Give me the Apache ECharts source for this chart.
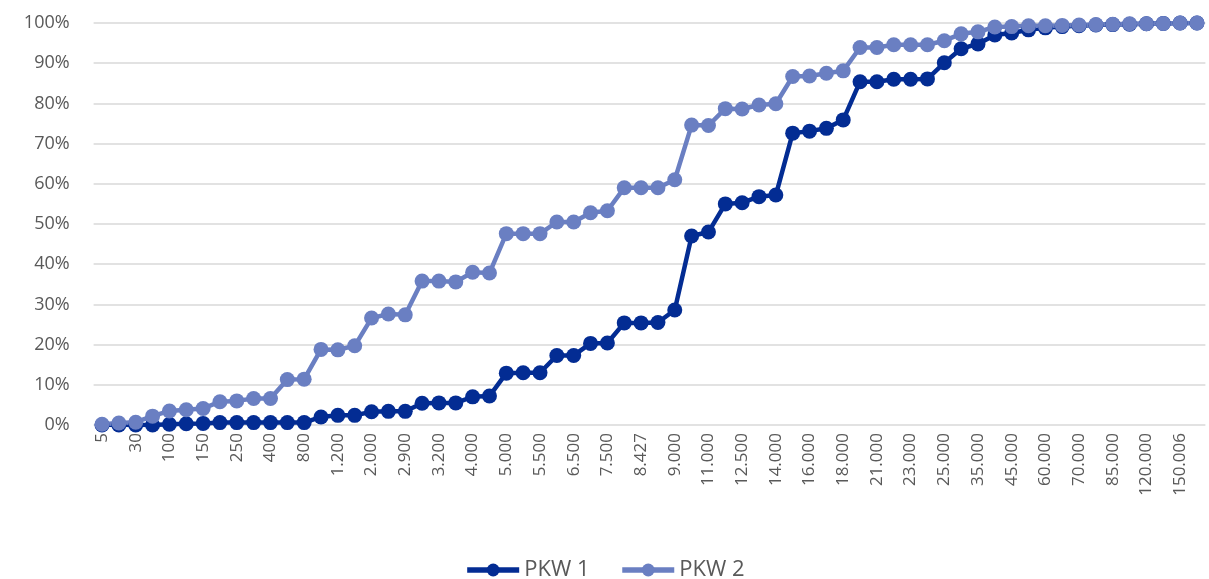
<!DOCTYPE html>
<html>
<head>
<meta charset="utf-8">
<script src="https://cdn.jsdelivr.net/npm/echarts@6/dist/echarts.min.js"></script>
<style>
html,body{margin:0;padding:0;background:#fff;}
#chart{width:1209px;height:579px;}
</style>
</head>
<body>
<div id="chart"></div>
<script>
const categories = ['5','10','30','50','100','120','150','200','250','300','400','500','800','1.000','1.200','1.500','2.000','2.500','2.900','3.000','3.200','3.500','4.000','4.500','5.000','5.200','5.500','6.000','6.500','7.000','7.500','8.000','8.427','8.500','9.000','10.000','11.000','12.000','12.500','13.000','14.000','15.000','16.000','17.000','18.000','20.000','21.000','22.000','23.000','24.000','25.000','30.000','35.000','40.000','45.000','50.000','60.000','65.000','70.000','80.000','85.000','100.000','120.000','140.000','150.006','160.000'];
const pkw1 = [0,0,0,0,0.2,0.3,0.4,0.6,0.6,0.6,0.6,0.6,0.6,2.0,2.4,2.4,3.3,3.4,3.4,5.4,5.5,5.5,7.0,7.2,12.9,13.0,13.0,17.3,17.3,20.3,20.4,25.4,25.4,25.5,28.6,47.0,48.0,55.0,55.3,56.8,57.2,72.6,73.1,73.8,75.9,85.4,85.4,86.0,86.0,86.1,90.1,93.6,94.8,97.0,97.5,98.3,98.8,99.1,99.3,99.5,99.6,99.7,99.8,99.9,100,100];
const pkw2 = [0.2,0.5,0.7,2.2,3.5,3.8,4.1,5.8,6.0,6.6,6.6,11.3,11.4,18.8,18.7,19.7,26.6,27.6,27.4,35.8,35.8,35.6,38.0,37.8,47.6,47.6,47.6,50.5,50.5,52.8,53.3,59.0,59.0,59.0,61.0,74.6,74.5,78.7,78.6,79.6,79.9,86.7,86.8,87.5,88.1,93.9,93.9,94.6,94.6,94.6,95.6,97.3,97.8,99.0,99.1,99.3,99.3,99.4,99.5,99.6,99.7,99.8,99.8,99.9,100,100];
const seriesNames = ['PKW 1','PKW 2'];
const yTicks = {min:0, max:100, interval:10};

const font = 'Open Sans, Noto Sans, sans-serif';
const grey = '#595959';
const chart = echarts.init(document.getElementById('chart'));
chart.setOption({
  animation:false,
  backgroundColor:'#fff',
  grid:{left:93.6, right:3.6, top:23, bottom:154, containLabel:false},
  legend:{
    bottom:-7, left:'center', itemWidth:52, itemHeight:16, itemGap:30,
    lineStyle:{width:5.5},
    textStyle:{color:grey, fontSize:22, fontFamily:font, padding:[0,0,0,0]},
    data:seriesNames
  },
  xAxis:{
    type:'category', data:categories, boundaryGap:true,
    axisLine:{show:false}, axisTick:{show:false},
    axisLabel:{interval:1, rotate:90, color:grey, fontSize:17, fontFamily:font, margin:8}
  },
  yAxis:{
    type:'value', min:yTicks.min, max:yTicks.max, interval:yTicks.interval,
    axisLine:{show:false}, axisTick:{show:false},
    axisLabel:{formatter:'{value}%', color:grey, fontSize:18, fontFamily:font, margin:24},
    splitLine:{lineStyle:{color:'#d9d9d9', width:1.5}}
  },
  series:[
    {name:seriesNames[0], type:'line', data:pkw1, symbol:'circle', symbolSize:15, showAllSymbol:true,
     lineStyle:{width:4.5, color:'#032C93'}, itemStyle:{color:'#032C93'}},
    {name:seriesNames[1], type:'line', data:pkw2, symbol:'circle', symbolSize:15, showAllSymbol:true,
     lineStyle:{width:4.5, color:'#6A7FC2'}, itemStyle:{color:'#6A7FC2'}}
  ]
});
</script>
</body>
</html>
